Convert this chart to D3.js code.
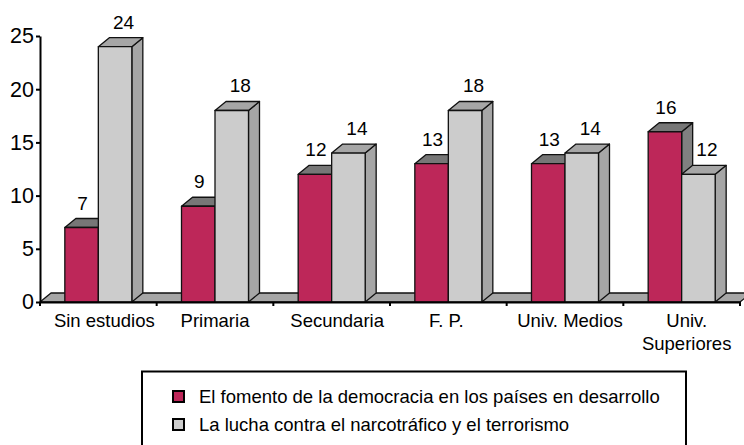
<!DOCTYPE html>
<meta charset="utf-8">
<script src="https://d3js.org/d3.v7.min.js"></script>
<style>
body { margin: 0; background: #fff; }
svg { display: block; font-family: "Liberation Sans", Arial, sans-serif; }
.side { stroke: #111; stroke-width: 1.3px; stroke-linejoin: round; }
.axis path, .axis line { stroke: #000; stroke-width: 2px; }
</style>
<body></body>
<script>
var categories = ["Sin estudios", "Primaria", "Secundaria", "F. P.", "Univ. Medios", "Univ. Superiores"];
var fomento = [7, 9, 12, 13, 13, 16];
var lucha = [24, 18, 14, 18, 14, 12];
var yTicks = [0, 5, 10, 15, 20, 25];
var seriesNames = ["El fomento de la democracia en los países en desarrollo", "La lucha contra el narcotráfico y el terrorismo"];

var width = 744, height = 445;
var left = 40, right = 740, top_ = 36, base = 302;
var dx = 11, dy = -9; // fake 3d offset
var barW = 33.5;
var labelShift = [6, 0, 5.5, -2, 5, 5]; // category labels are not centred in the original

var svg = d3.select("body").append("svg")
    .attr("width", width)
    .attr("height", height);

var x = d3.scaleBand().domain(categories).range([left, right]);
var y = d3.scaleLinear().domain([0, 25]).range([base, top_]);

// floor
svg.append("path")
    .attr("class", "side")
    .attr("fill", "#a6a6a6")
    .attr("d", d3.line()([[left, base], [left + dx, base + dy], [right + dx, base + dy], [right, base]]) + "Z");

function drawBar(g, x0, v, front, topC, sideC) {
  var yv = y(v);
  g.append("path").attr("class", "side").attr("fill", sideC)
      .attr("d", d3.line()([[x0 + barW, yv], [x0 + barW + dx, yv + dy], [x0 + barW + dx, base + dy], [x0 + barW, base]]) + "Z");
  g.append("path").attr("class", "side").attr("fill", topC)
      .attr("d", d3.line()([[x0, yv], [x0 + dx, yv + dy], [x0 + barW + dx, yv + dy], [x0 + barW, yv]]) + "Z");
  g.append("rect").attr("class", "side").attr("fill", front)
      .attr("x", x0).attr("y", yv).attr("width", barW).attr("height", base - yv);
}

categories.forEach(function(c, i) {
  var g = svg.append("g");
  var cx = x(c) + x.bandwidth() / 2;
  drawBar(g, cx - barW, fomento[i], "#bd2759", "#777777", "#808080");
  drawBar(g, cx, lucha[i], "#cccccc", "#a6a6a6", "#a6a6a6");
  g.append("text").text(fomento[i])
      .attr("x", cx - barW / 2 + 1).attr("y", y(fomento[i]) - 18)
      .attr("text-anchor", "middle").attr("font-size", "19px");
  g.append("text").text(lucha[i])
      .attr("x", cx + barW / 2 + 8.5).attr("y", y(lucha[i]) - 18)
      .attr("text-anchor", "middle").attr("font-size", "19px");
});

// axes
var yAxis = svg.append("g")
    .attr("class", "axis")
    .attr("transform", "translate(" + left + ",0)")
    .call(d3.axisLeft(y).tickValues(yTicks).tickSize(4).tickSizeOuter(0));
yAxis.selectAll("text").attr("font-size", "21.5px").attr("font-family", "Liberation Sans").attr("x", -6);

var xAxis = svg.append("g")
    .attr("class", "axis")
    .attr("transform", "translate(0," + base + ")")
    .call(d3.axisBottom(x).tickValues([]).tickSizeOuter(0));
var edges = categories.map(function(c) { return x(c); }).concat([right]);
xAxis.selectAll(".edge").data(edges).enter().append("line")
    .attr("x1", function(d) { return d; }).attr("x2", function(d) { return d; })
    .attr("y1", 0).attr("y2", 4);

categories.forEach(function(c, i) {
  var cx = x(c) + x.bandwidth() / 2;
  var words = c == "Univ. Superiores" ? ["Univ.", "Superiores"] : [c];
  words.forEach(function(w, k) {
    svg.append("text").text(w)
        .attr("x", cx + labelShift[i]).attr("y", 327 + k * 23)
        .attr("text-anchor", "middle").attr("font-size", "18.5px");
  });
});

// legend, box runs off the bottom
svg.append("rect")
    .attr("x", 142).attr("y", 371.5).attr("width", 544).attr("height", 90)
    .attr("fill", "none").attr("stroke", "#000").attr("stroke-width", 2);
var legendColors = ["#bd2759", "#cccccc"];
seriesNames.forEach(function(s, i) {
  var ly = 397 + i * 28;
  svg.append("rect")
      .attr("x", 173).attr("y", ly - 6).attr("width", 11).attr("height", 11)
      .attr("fill", legendColors[i]).attr("stroke", "#000").attr("stroke-width", 2);
  svg.append("text").text(s)
      .attr("x", 199).attr("y", ly + 6)
      .attr("font-size", "18.5px");
});
</script>
